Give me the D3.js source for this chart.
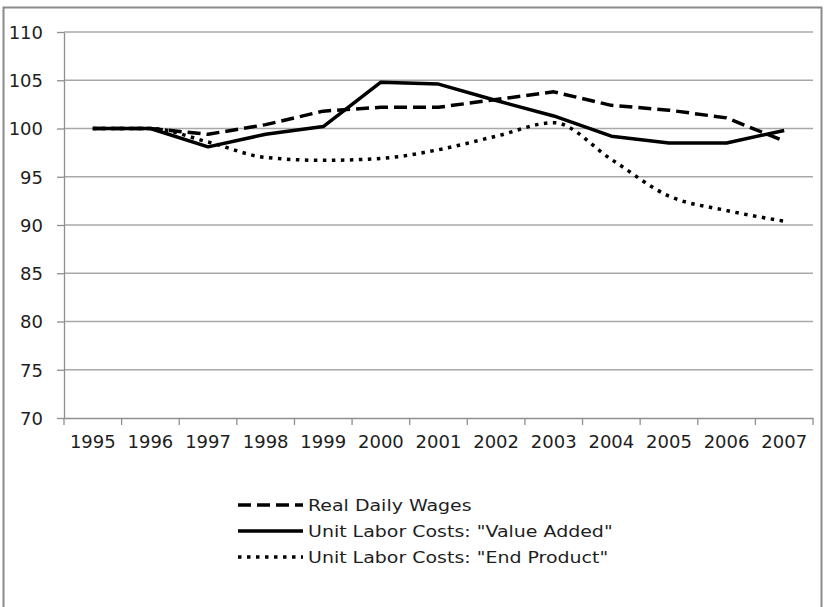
<!DOCTYPE html>
<html>
<head>
<meta charset="utf-8">
<script src="https://cdn.jsdelivr.net/npm/d3@7"></script>
<style>
  body { margin: 0; background: #fff; }
  svg text { font-family: "DejaVu Sans", sans-serif; fill: #1e1e1e; }
</style>
</head>
<body>
<div id="chart-area"></div>
<script>
var years = ["1995", "1996", "1997", "1998", "1999", "2000", "2001",
    "2002", "2003", "2004", "2005", "2006", "2007"];
var yTicks = [70, 75, 80, 85, 90, 95, 100, 105, 110];

var realWages = [100, 100, 99.4, 100.4, 101.8, 102.2, 102.2, 103.0, 103.8, 102.4, 101.9, 101.1, 98.7];
var valueAdded = [100, 100, 98.1, 99.4, 100.2, 104.8, 104.6, 102.9, 101.3, 99.2, 98.5, 98.5, 99.8];
var endProduct = [100, 100, 98.6, 97.0, 96.7, 96.9, 97.8, 99.2, 100.6, 96.8, 93.0, 91.5, 90.4];

var seriesNames = ["Real Daily Wages", "Unit Labor Costs: \"Value Added\"", "Unit Labor Costs: \"End Product\""];

var svg = d3.select("#chart-area").append("svg")
    .attr("width", 825)
    .attr("height", 607);

// outer frame
svg.append("rect")
    .attr("x", 3.5)
    .attr("y", 7.5)
    .attr("width", 818)
    .attr("height", 620)
    .attr("fill", "none")
    .attr("stroke", "#8a8a8a")
    .attr("stroke-width", 2);

var plotLeft = 64, plotRight = 813, plotTop = 32, plotBottom = 418;

var x = d3.scaleBand()
    .domain(years)
    .range([plotLeft, plotRight])
    .padding(0);

var y = d3.scaleLinear()
    .domain([70, 110])
    .range([plotBottom, plotTop]);

// gridlines
svg.selectAll(".grid")
    .data(yTicks.filter(d => d > 70))
    .enter()
    .append("line")
    .attr("x1", plotLeft)
    .attr("x2", plotRight)
    .attr("y1", d => y(d))
    .attr("y2", d => y(d))
    .attr("stroke", "#a8a8a8")
    .attr("stroke-width", 1.3);

// y axis
var yAxis = svg.append("g")
    .attr("transform", "translate(" + plotLeft + ",0)")
    .call(d3.axisLeft(y).tickValues(yTicks).tickSize(7).tickPadding(14).tickSizeOuter(0));
yAxis.selectAll("text").style("font-size", "18px").attr("dy", "0.35em");

// x axis
var xAxis = svg.append("g")
    .attr("transform", "translate(0," + plotBottom + ")")
    .call(d3.axisBottom(x).tickSize(0).tickPadding(17).tickSizeOuter(0));
xAxis.selectAll("text").style("font-size", "18px");

svg.selectAll("g .domain").attr("stroke", "#8f8f8f").attr("stroke-width", 1.3);
svg.selectAll("g .tick line").attr("stroke", "#8f8f8f").attr("stroke-width", 1.3);

// tick marks between categories
svg.selectAll(".xtick")
    .data(years.map(d => x(d)).concat([x.range()[1]]))
    .enter()
    .append("line")
    .attr("x1", d => d)
    .attr("x2", d => d)
    .attr("y1", plotBottom)
    .attr("y2", plotBottom + 7)
    .attr("stroke", "#8f8f8f")
    .attr("stroke-width", 1.3);

var cx = d => x(d) + x.bandwidth() / 2;

var styles = [
    { values: realWages, dash: "13 6", curve: d3.curveLinear },
    { values: valueAdded, dash: null, curve: d3.curveLinear },
    { values: endProduct, dash: "3.5 5.5", curve: d3.curveMonotoneX }
];

styles.forEach(s => {
    var line = d3.line()
        .x((d, i) => cx(years[i]))
        .y(d => y(d))
        .curve(s.curve);
    svg.append("path")
        .datum(s.values)
        .attr("d", line)
        .attr("fill", "none")
        .attr("stroke", "#000")
        .attr("stroke-width", 3.5)
        .attr("stroke-linejoin", "round")
        .attr("stroke-dasharray", s.dash);
});

// legend
var legend = svg.append("g");
var legendRows = [505, 531, 557];
styles.forEach((s, i) => {
    legend.append("line")
        .attr("x1", 238)
        .attr("x2", 303)
        .attr("y1", legendRows[i])
        .attr("y2", legendRows[i])
        .attr("stroke", "#000")
        .attr("stroke-width", 3.5)
        .attr("stroke-dasharray", s.dash);
    legend.append("text")
        .attr("transform", "translate(308," + legendRows[i] + ") scale(1.15,1)")
        .attr("dy", "0.35em")
        .style("font-size", "16.5px")
        .text(seriesNames[i]);
});
</script>
</body>
</html>
